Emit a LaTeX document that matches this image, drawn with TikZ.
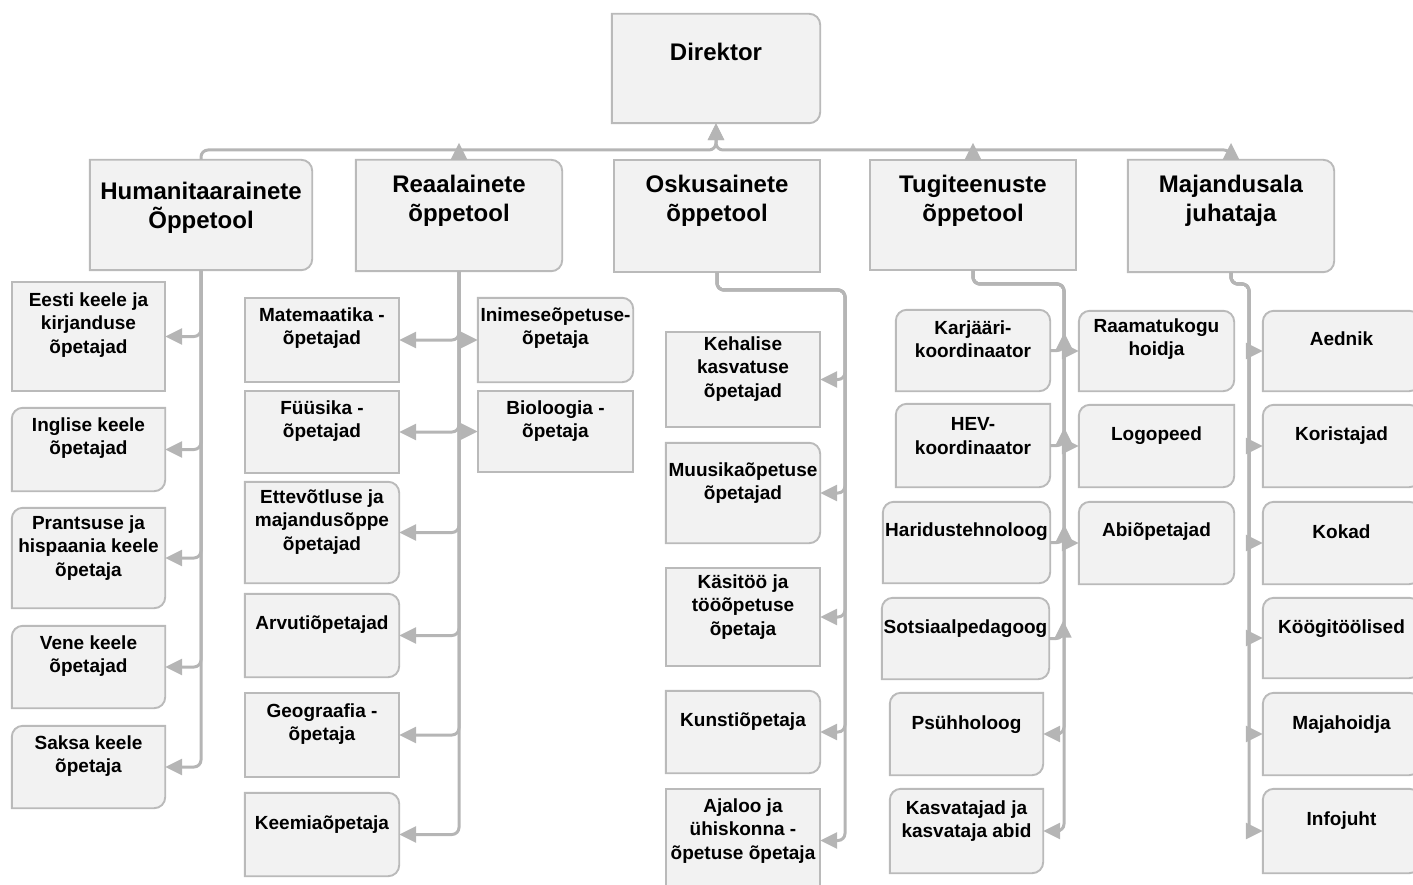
\documentclass[tikz,border=0pt]{standalone}
\usepackage{fontspec}
\setmainfont{Liberation Sans}
\usetikzlibrary{arrows.meta,fit}
\definecolor{boxgray}{HTML}{F2F2F2}
\definecolor{rimgray}{HTML}{BABABA}
\definecolor{linkgray}{HTML}{B5B5B5}
\tikzset{
  unit/.style={inner sep=0pt},
  rim/.style={draw=rimgray, fill=boxgray, line width=1.9pt},
  rd/.style={rounded corners=11pt},
  sq/.style={sharp corners},
  link/.style={draw=linkgray, line width=3pt, rounded corners=7pt},
  tip/.style={-{Triangle[length=17pt,width=16pt]}},
  lbl/.style={font=\bfseries\fontsize{19}{23.5}\selectfont, align=center},
  head/.style={font=\bfseries\fontsize{24}{29}\selectfont, align=center}
}
\newcommand{\staffbox}[9][lbl]{%
  \node[unit, fit={#3}] (#2) {};
  \path[rim] (#2.west) [#4] |- (#2.north) [#5] -| (#2.east) [#6] |- (#2.south) [#7] -| (#2.west);
  \node[#1] (#2-txt) at (#2.center |- 0,#8) {#9};
}
\begin{document}
\begin{tikzpicture}[x=1pt, y=-1pt]
\useasboundingbox (0,0) rectangle (1413,885);
\staffbox[head]{dir}{(612,14) (820,123)}{sq}{rd}{rd}{sq}{52}{Direktor}
\staffbox[head]{hum}{(90,160) (312,270)}{sq}{rd}{rd}{sq}{208}{Humanitaarainete\\Õppetool}
\staffbox[head]{rea}{(356,160) (562,271)}{sq}{rd}{rd}{sq}{201}{Reaalainete\\õppetool}
\staffbox[head]{osk}{(614,160) (820,272)}{sq}{sq}{sq}{sq}{201}{Oskusainete\\õppetool}
\staffbox[head]{tug}{(870,160) (1076,270)}{sq}{sq}{sq}{sq}{201}{Tugiteenuste\\õppetool}
\staffbox[head]{maj}{(1128,160) (1334,272)}{sq}{rd}{rd}{sq}{201}{Majandusala\\juhataja}

\staffbox{eesti}{(12,282) (165,391)}{sq}{sq}{sq}{sq}{325}{Eesti keele ja\\kirjanduse\\õpetajad}
\staffbox{inglise}{(12,408) (165,491)}{rd}{sq}{rd}{sq}{438}{Inglise keele\\õpetajad}
\staffbox{prantsuse}{(12,508) (165,608)}{rd}{sq}{rd}{sq}{548}{Prantsuse ja\\hispaania keele\\õpetaja}
\staffbox{vene}{(12,626) (165,708)}{rd}{sq}{rd}{sq}{656}{Vene keele\\õpetajad}
\staffbox{saksa}{(12,726) (165,808)}{rd}{sq}{rd}{sq}{756}{Saksa keele\\õpetaja}

\staffbox{mat}{(245,298) (399,382)}{sq}{sq}{sq}{sq}{328}{Matemaatika -\\õpetajad}
\staffbox{fyy}{(245,391) (399,473)}{sq}{sq}{sq}{sq}{421}{Füüsika -\\õpetajad}
\staffbox{ett}{(245,482) (399,583)}{sq}{rd}{rd}{sq}{522}{Ettevõtluse ja\\majandusõppe\\õpetajad}
\staffbox{arv}{(245,594) (399,677)}{sq}{rd}{rd}{sq}{625}{Arvutiõpetajad}
\staffbox{geo}{(245,693) (399,777)}{sq}{sq}{sq}{sq}{724}{Geograafia -\\õpetaja}
\staffbox{kee}{(245,793) (399,876)}{sq}{rd}{rd}{sq}{825}{Keemiaõpetaja}
\staffbox{ini}{(478,298) (633,382)}{sq}{rd}{rd}{sq}{328}{Inimeseõpetuse-\\õpetaja}
\staffbox{bio}{(478,391) (633,472)}{sq}{sq}{sq}{sq}{421}{Bioloogia -\\õpetaja}

\staffbox{keh}{(666,332) (820,427)}{sq}{sq}{sq}{sq}{369}{Kehalise\\kasvatuse\\õpetajad}
\staffbox{muu}{(666,443) (820,543)}{sq}{rd}{rd}{sq}{483}{Muusikaõpetuse\\õpetajad}
\staffbox{kasi}{(666,568) (820,666)}{sq}{sq}{sq}{sq}{607}{Käsitöö ja\\tööõpetuse\\õpetaja}
\staffbox{kun}{(666,691) (820,773)}{sq}{rd}{rd}{sq}{722}{Kunstiõpetaja}
\staffbox{aja}{(666,789) (820,892)}{sq}{sq}{sq}{sq}{831}{Ajaloo ja\\ühiskonna -\\õpetuse õpetaja}

\staffbox{kar}{(896,310) (1050,391)}{rd}{rd}{rd}{sq}{339}{Karjääri-\\koordinaator}
\staffbox{hev}{(896,404) (1050,487)}{rd}{sq}{rd}{sq}{436}{HEV-\\koordinaator}
\staffbox{har}{(883,502) (1050,583)}{rd}{rd}{rd}{sq}{532}{Haridustehnoloog}
\staffbox{sot}{(882,598) (1049,679)}{rd}{rd}{rd}{sq}{629}{Sotsiaalpedagoog}
\staffbox{psy}{(890,693) (1043,775)}{rd}{sq}{rd}{sq}{725}{Psühholoog}
\staffbox{kasv}{(890,789) (1043,873)}{rd}{sq}{rd}{sq}{821}{Kasvatajad ja\\kasvataja abid}
\staffbox{raa}{(1079,311) (1234,391)}{rd}{rd}{rd}{sq}{339}{Raamatukogu\\hoidja}
\staffbox{log}{(1079,405) (1234,487)}{rd}{sq}{rd}{sq}{436}{Logopeed}
\staffbox{abi}{(1079,502) (1234,584)}{rd}{rd}{rd}{sq}{532}{Abiõpetajad}

\staffbox{aed}{(1263,311) (1420,391)}{rd}{rd}{rd}{sq}{339}{Aednik}
\staffbox{kor}{(1263,405) (1420,487)}{rd}{rd}{rd}{sq}{436}{Koristajad}
\staffbox{kok}{(1263,502) (1420,584)}{rd}{rd}{rd}{sq}{532}{Kokad}
\staffbox{koo}{(1263,598) (1420,678)}{rd}{rd}{rd}{sq}{629}{Köögitöölised}
\staffbox{maja}{(1263,693) (1420,775)}{rd}{rd}{rd}{sq}{725}{Majahoidja}
\staffbox{inf}{(1263,789) (1420,873)}{rd}{rd}{rd}{sq}{821}{Infojuht}

\coordinate (hub) at (716,150);
\coordinate (oskrail) at (845,290);
\coordinate (tugrail) at (1064,284);
\coordinate (majrail) at (1249,284);

\draw[link, tip] (hum.north) |- (hub) -- (dir.south);
\draw[link, tip] (maj.north) |- (hub) -- (dir.south);
\draw[link, tip] (rea.north) -- ++(0,-17);
\draw[link, tip] (tug.north) -- ++(0,-17);
\draw[link, tip] (maj.north) -- ++(0,-17);

\foreach \n in {eesti,inglise,prantsuse,vene,saksa}
  \draw[link, tip] (hum.south) |- (\n.east);
\foreach \n in {mat,fyy,ett,arv,geo,kee}
  \draw[link, tip] (rea.south) |- (\n.east);
\foreach \n in {ini,bio}
  \draw[link, tip] (rea.south) |- (\n.west);
\foreach \n in {keh,muu,kasi,kun,aja}
  \draw[link, tip] (osk.south) |- (oskrail) |- (\n.east);
\foreach \n in {raa,log,abi}
  \draw[link, tip] (tug.south) |- (tugrail) |- (\n.west);
\foreach \n in {psy,kasv}
  \draw[link, tip] (tug.south) |- (tugrail) |- (\n.east);
\foreach \n in {kar,hev,har,sot}
  \draw[link, tip] (\n.east) -| ++(14,-18);
\foreach \n in {aed,kor,kok,koo,maja,inf}
  \draw[link, tip] (maj.south) |- (majrail) |- (\n.west);
\end{tikzpicture}
\end{document}
